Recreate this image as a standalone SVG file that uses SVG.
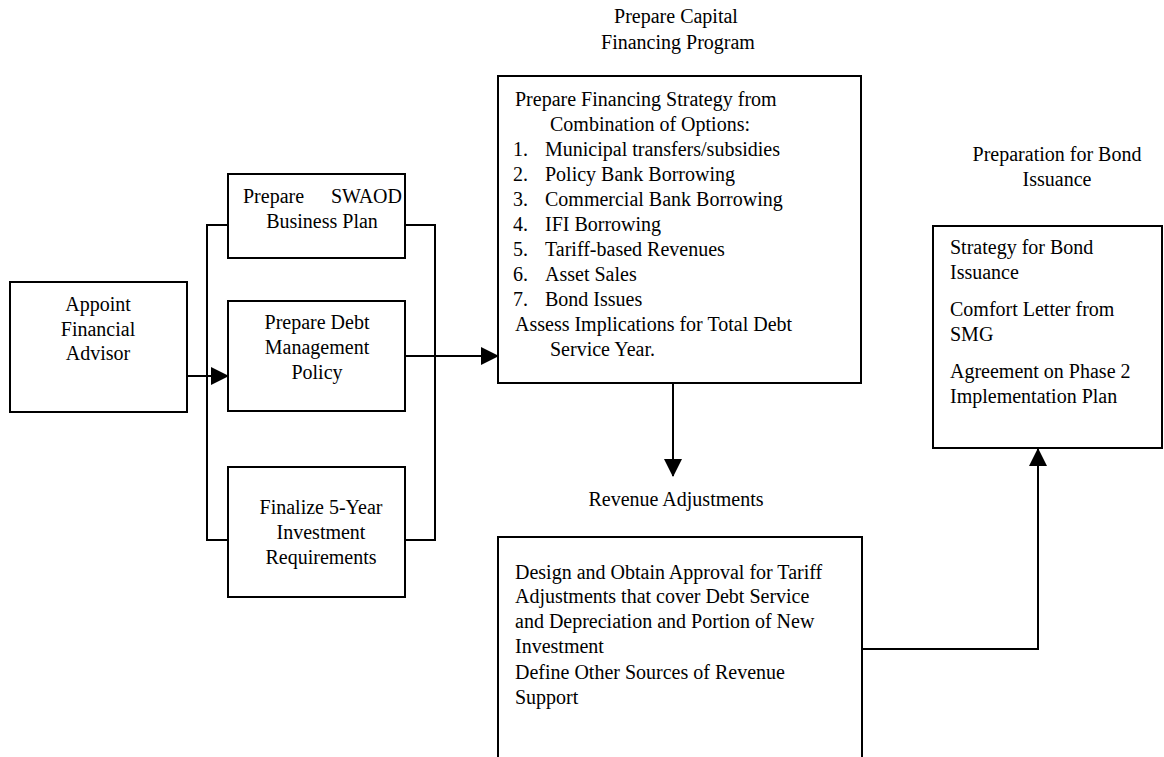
<svg xmlns="http://www.w3.org/2000/svg" width="1164" height="757" viewBox="0 0 1164 757">
<style>
text{font-family:"Liberation Serif","Times New Roman",serif;font-size:20px;fill:#000}
.c{text-anchor:middle}
.box{fill:#fff;stroke:#000;stroke-width:2}
.ln{fill:none;stroke:#000;stroke-width:2}
</style>
<defs>
<marker id="ah" markerWidth="18" markerHeight="18" refX="17" refY="9" orient="auto" markerUnits="userSpaceOnUse">
<path d="M0,0 L18,9 L0,18 Z" fill="#000"/>
</marker>
</defs>
<g id="connectors">
<polyline class="ln" points="228,225 207,225 207,540 228,540"/>
<polyline class="ln" points="405,225 435,225 435,540 405,540"/>
<line class="ln" x1="187" y1="376" x2="228" y2="376" marker-end="url(#ah)"/>
<line class="ln" x1="405" y1="356" x2="498" y2="356" marker-end="url(#ah)"/>
<line class="ln" x1="673" y1="383" x2="673" y2="476" marker-end="url(#ah)"/>
<polyline class="ln" points="862,649 1038,649 1038,449" marker-end="url(#ah)"/>
</g>
<g id="appoint">
<rect class="box" x="10" y="282" width="177" height="130"/>
<text class="c" x="98" y="311">Appoint</text>
<text class="c" x="98" y="336">Financial</text>
<text class="c" x="98" y="360">Advisor</text>
</g>
<g id="swaod">
<rect class="box" x="228" y="174" width="177" height="84"/>
<text x="243" y="203">Prepare</text>
<text x="402" y="203" text-anchor="end">SWAOD</text>
<text class="c" x="322" y="228">Business Plan</text>
</g>
<g id="debt">
<rect class="box" x="228" y="301" width="177" height="110"/>
<text class="c" x="317" y="329">Prepare Debt</text>
<text class="c" x="317" y="354">Management</text>
<text class="c" x="317" y="379">Policy</text>
</g>
<g id="finalize">
<rect class="box" x="228" y="467" width="177" height="130"/>
<text class="c" x="321" y="514">Finalize 5-Year</text>
<text class="c" x="321" y="539">Investment</text>
<text class="c" x="321" y="564">Requirements</text>
</g>
<g id="capital">
<text class="c" x="676" y="23">Prepare Capital</text>
<text class="c" x="678" y="49">Financing Program</text>
<rect class="box" x="498" y="76" width="363" height="307"/>
<text x="515" y="106">Prepare Financing Strategy from</text>
<text x="550" y="131">Combination of Options:</text>
<text x="513" y="156">1.</text><text x="545" y="156">Municipal transfers/subsidies</text>
<text x="513" y="181">2.</text><text x="545" y="181">Policy Bank Borrowing</text>
<text x="513" y="206">3.</text><text x="545" y="206">Commercial Bank Borrowing</text>
<text x="513" y="231">4.</text><text x="545" y="231">IFI Borrowing</text>
<text x="513" y="256">5.</text><text x="545" y="256">Tariff-based Revenues</text>
<text x="513" y="281">6.</text><text x="545" y="281">Asset Sales</text>
<text x="513" y="306">7.</text><text x="545" y="306">Bond Issues</text>
<text x="515" y="331">Assess Implications for Total Debt</text>
<text x="550" y="356">Service Year.</text>
</g>
<g id="revenue">
<text class="c" x="676" y="506">Revenue Adjustments</text>
<rect class="box" x="498" y="537" width="364" height="240"/>
<text x="515" y="579">Design and Obtain Approval for Tariff</text>
<text x="515" y="603">Adjustments that cover Debt Service</text>
<text x="515" y="628">and Depreciation and Portion of New</text>
<text x="515" y="653">Investment</text>
<text x="515" y="679">Define Other Sources of Revenue</text>
<text x="515" y="704">Support</text>
</g>
<g id="bond">
<text class="c" x="1057" y="161">Preparation for Bond</text>
<text class="c" x="1057" y="186">Issuance</text>
<rect class="box" x="933" y="226" width="229" height="222"/>
<text x="950" y="254">Strategy for Bond</text>
<text x="950" y="279">Issuance</text>
<text x="950" y="316">Comfort Letter from</text>
<text x="950" y="341">SMG</text>
<text x="950" y="378">Agreement on Phase 2</text>
<text x="950" y="403">Implementation Plan</text>
</g>
</svg>
